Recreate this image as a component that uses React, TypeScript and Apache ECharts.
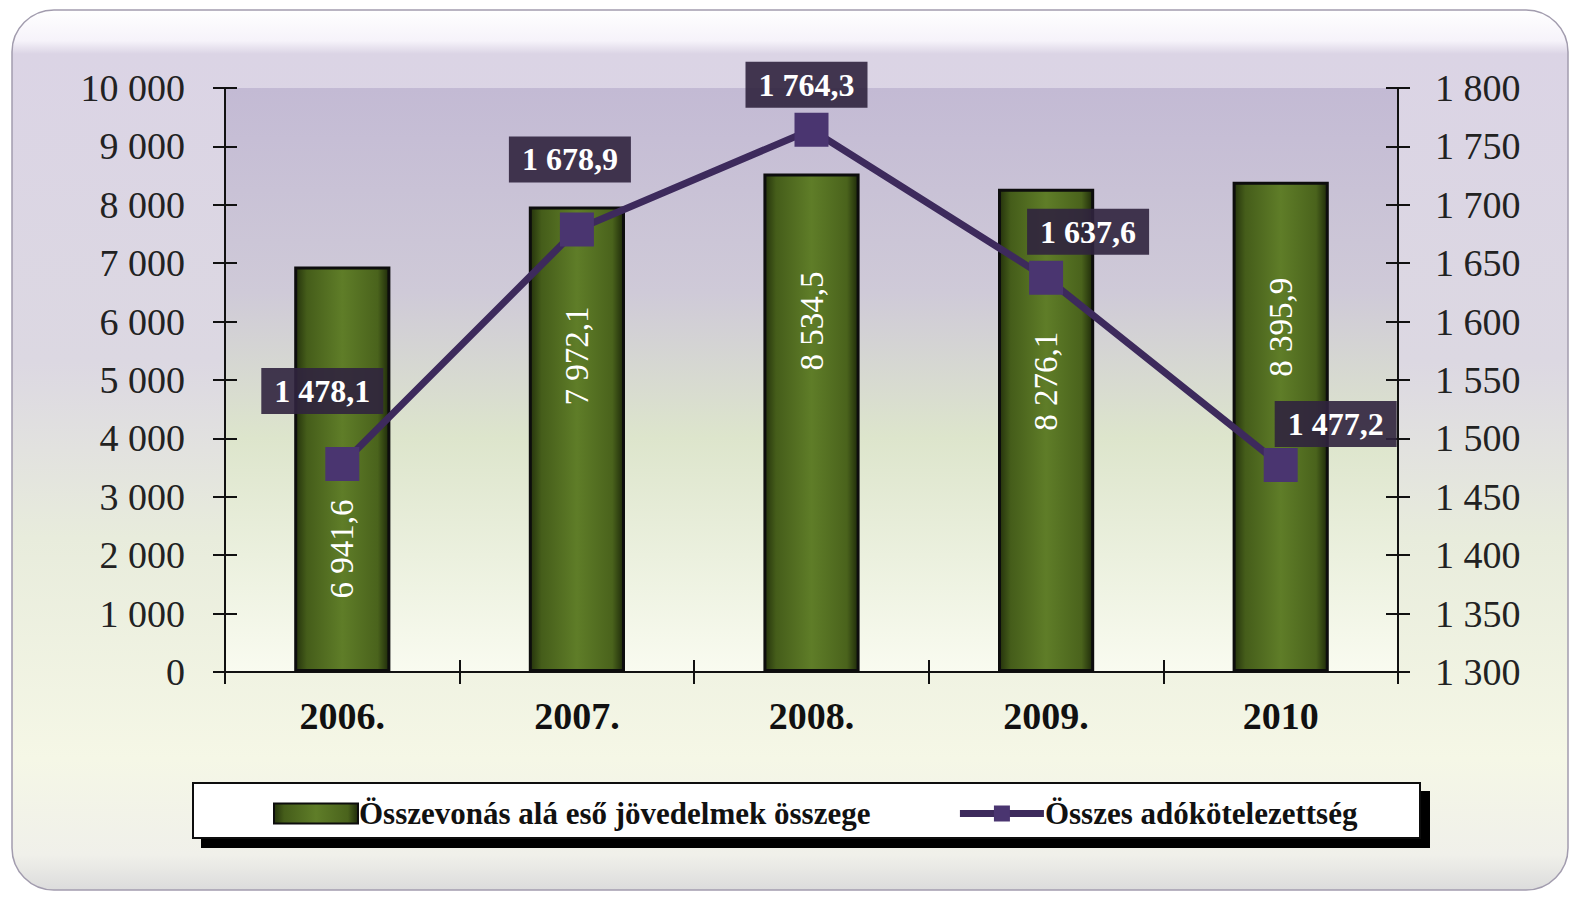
import React, { useEffect, useRef } from "react";
import * as echarts from "echarts";

const categories = ["2006.", "2007.", "2008.", "2009.", "2010"];
const incomeValues = [6941.6, 7972.1, 8534.5, 8276.1, 8395.9];
const taxValues = [1478.1, 1678.9, 1764.3, 1637.6, 1477.2];
const incomeName = "Összevonás alá eső jövedelmek összege";
const taxName = "Összes adókötelezettség";
const leftTicks = { min: 0, max: 10000, interval: 1000 };
const rightTicks = { min: 1300, max: 1800, interval: 50 };

const FONT = "'Liberation Serif', 'Times New Roman', serif";

function fmt(v: number, dec: number): string {
  const s = v.toFixed(dec);
  const [i, d] = s.split(".");
  const ii = i.replace(/\B(?=(\d{3})+(?!\d))/g, " ");
  return d ? ii + "," + d : ii;
}

// label placement styling (not data)
const barLabelDistance = [233, 100, 98, 143, 96];
const taxLabelOffset: [number, number][] = [
  [-20, -73],
  [-7, -70],
  [-5, -45],
  [42, -46],
  [55, -41],
];

export default function App() {
  const ref = useRef<HTMLDivElement>(null);
  useEffect(() => {
    if (!ref.current) return;
    const chart = echarts.init(ref.current, null, { renderer: "svg" });
    const axisLineStyle = { color: "#111", width: 2 };
    const option: any = {
      animation: false,
      textStyle: { fontFamily: FONT },
      graphic: [
        {
          type: "rect",
          z: -100,
          shape: { x: 12, y: 10, width: 1556, height: 880, r: 42 },
          style: {
            fill: new echarts.graphic.LinearGradient(0, 0, 0, 1, [
              { offset: 0, color: "#ffffff" },
              { offset: 0.035, color: "#f6f3fa" },
              { offset: 0.05, color: "#dbd4e5" },
              { offset: 0.4, color: "#dcd8e2" },
              { offset: 0.6, color: "#e8ecdc" },
              { offset: 0.85, color: "#f5f7e6" },
              { offset: 0.96, color: "#f0f0ea" },
              { offset: 1, color: "#dcdcdc" },
            ]),
            stroke: "#a29cae",
            lineWidth: 1.5,
          },
        },
        {
          type: "rect",
          z: 1,
          shape: { x: 193, y: 783, width: 1227, height: 55 },
          style: {
            fill: "#ffffff",
            stroke: "#111",
            lineWidth: 2,
            shadowColor: "#000",
            shadowOffsetX: 9,
            shadowOffsetY: 9,
            shadowBlur: 0,
          },
        },
      ],
      grid: {
        left: 225,
        right: 178,
        top: 88,
        bottom: 226,
        show: true,
        borderWidth: 0,
        backgroundColor: new echarts.graphic.LinearGradient(0, 0, 0, 1, [
          { offset: 0, color: "#c3bad4" },
          { offset: 0.35, color: "#cfcad8" },
          { offset: 0.6, color: "#dde5cc" },
          { offset: 1, color: "#f9fbf0" },
        ]),
      },
      legend: {
        data: [
          { name: incomeName, icon: "rect" },
          { name: taxName },
        ],
        left: 268,
        top: 793,
        itemWidth: 84,
        itemHeight: 20,
        itemGap: 86,
        lineStyle: { width: 7, color: "#3d2a5c" },
        textStyle: { fontFamily: FONT, fontSize: 31, fontWeight: "bold", color: "#111", padding: [0, 0, 0, -4] },
      },
      xAxis: [
        {
          type: "category",
          data: categories,
          axisLine: { lineStyle: axisLineStyle },
          axisTick: { show: true, length: 12, lineStyle: axisLineStyle },
          axisLabel: { fontFamily: FONT, fontSize: 38, fontWeight: "bold", color: "#111", margin: 25 },
        },
        {
          type: "value",
          position: "bottom",
          min: 0,
          max: categories.length,
          interval: 1,
          splitLine: { show: false },
          axisLine: { show: false },
          axisTick: { show: true, inside: true, length: 12, lineStyle: axisLineStyle },
          axisLabel: { show: false },
        },
      ],
      yAxis: [
        {
          type: "value",
          position: "left",
          ...leftTicks,
          splitLine: { show: false },
          axisLine: { show: true, lineStyle: axisLineStyle },
          axisTick: { show: true, length: 12, lineStyle: axisLineStyle },
          axisLabel: { fontFamily: FONT, fontSize: 38, color: "#222", margin: 40, formatter: (v: number) => fmt(v, 0) },
        },
        {
          type: "value",
          position: "right",
          ...rightTicks,
          splitLine: { show: false },
          axisLine: { show: true, lineStyle: axisLineStyle },
          axisTick: { show: true, length: 12, lineStyle: axisLineStyle },
          axisLabel: { fontFamily: FONT, fontSize: 38, color: "#222", margin: 37, formatter: (v: number) => fmt(v, 0) },
        },
        {
          type: "value",
          position: "left",
          ...leftTicks,
          splitLine: { show: false },
          axisLine: { show: false },
          axisTick: { show: true, inside: true, length: 12, lineStyle: axisLineStyle },
          axisLabel: { show: false },
        },
        {
          type: "value",
          position: "right",
          ...rightTicks,
          splitLine: { show: false },
          axisLine: { show: false },
          axisTick: { show: true, inside: true, length: 12, lineStyle: axisLineStyle },
          axisLabel: { show: false },
        },
      ],
      series: [
        {
          name: incomeName,
          type: "bar",
          yAxisIndex: 0,
          barWidth: "41%",
          z: 2,
          itemStyle: {
            color: new echarts.graphic.LinearGradient(0, 0, 1, 0, [
              { offset: 0, color: "#25330c" },
              { offset: 0.12, color: "#455d1a" },
              { offset: 0.5, color: "#5f7d28" },
              { offset: 0.88, color: "#4a631c" },
              { offset: 1, color: "#1f2b0a" },
            ]),
            borderColor: "#0d0d0d",
            borderWidth: 3,
          },
          data: incomeValues,
        },
        {
          name: "barLabels",
          type: "custom",
          xAxisIndex: 0,
          yAxisIndex: 0,
          z: 3,
          silent: true,
          data: incomeValues.map((v, i) => [i, v]),
          renderItem: (params: any, api: any) => {
            const idx = params.dataIndex;
            const p = api.coord([api.value(0), api.value(1)]);
            return {
              type: "text",
              x: p[0],
              y: p[1] + barLabelDistance[idx],
              rotation: Math.PI / 2,
              style: {
                text: fmt(api.value(1), 1),
                fill: "#ffffff",
                fontFamily: "Liberation Serif",
                fontSize: 33,
                align: "right",
                verticalAlign: "middle",
              },
            };
          },
        },
        {
          name: taxName,
          type: "line",
          yAxisIndex: 1,
          z: 5,
          symbol: "rect",
          symbolSize: 34,
          itemStyle: { color: "#4a3570" },
          lineStyle: { color: "#3d2a5c", width: 7 },
          label: {
            show: true,
            position: "inside",
            color: "#ffffff",
            fontFamily: FONT,
            fontSize: 32,
            fontWeight: "bold",
            backgroundColor: "rgba(48,36,62,0.9)",
            padding: [8, 13, 6, 13],
            formatter: (p: any) => fmt(p.value, 1),
          },
          data: taxValues.map((v, i) => ({
            value: v,
            label: { offset: taxLabelOffset[i] },
          })),
        },
      ],
    };
    chart.setOption(option);
    return () => chart.dispose();
  }, []);
  return (
    <div
      ref={ref}
      style={{ position: "absolute", left: 0, top: 0, width: 1576, height: 898, background: "#ffffff" }}
    />
  );
}
